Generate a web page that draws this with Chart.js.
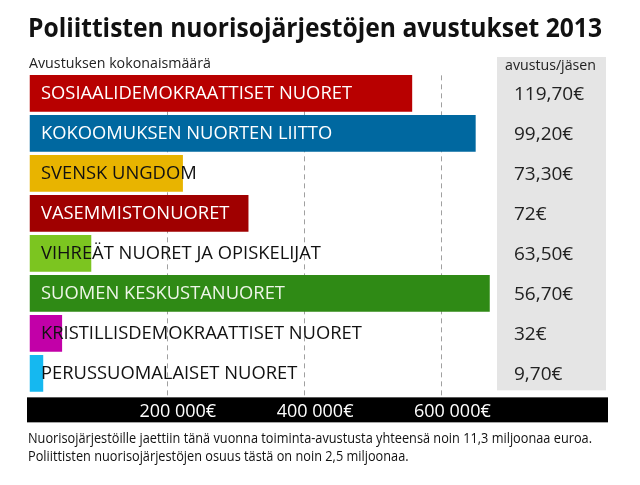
<!DOCTYPE html>
<html>
<head>
<meta charset="utf-8">
<script src="https://cdn.jsdelivr.net/npm/chart.js@4"></script>
<style>
  html, body { margin: 0; padding: 0; background: #fff; }
  #wrap { width: 640px; height: 485px; position: relative; }
</style>
</head>
<body>
<div id="wrap"><canvas id="avustusChart"></canvas></div>
<script>
// Puolueiden nuorisojärjestöt ja avustukset 2013
const jarjestot = [
    'SOSIAALIDEMOKRAATTISET NUORET',
    'KOKOOMUKSEN NUORTEN LIITTO',
    'SVENSK UNGDOM',
    'VASEMMISTONUORET',
    'VIHREÄT NUORET JA OPISKELIJAT',
    'SUOMEN KESKUSTANUORET',
    'KRISTILLISDEMOKRAATTISET NUORET',
    'PERUSSUOMALAISET NUORET'
];
const avustusYhteensa = [557500, 650000, 223500, 319000, 90000, 670500, 47500, 20000];
const avustusPerJasen = [119.70, 99.20, 73.30, 72, 63.50, 56.70, 32, 9.70];
const tickArvot = [200000, 400000, 600000];

const palkkiVarit = ['#b80000', '#0068a0', '#e8b400', '#a00000', '#7cc520', '#2f8a15', '#c200a8', '#15b8f0'];
const tekstiVarit = ['#ffffff', '#ffffff', '#111111', '#ffffff', '#111111', '#eef6e8', '#111111', '#111111'];

const otsikko = 'Poliittisten nuorisojärjestöjen avustukset 2013';
const alaotsikko = 'Avustuksen kokonaismäärä';
const sarakeOtsikko = 'avustus/jäsen';
const alaviite = [
    'Nuorisojärjestöille jaettiin tänä vuonna toiminta-avustusta yhteensä noin 11,3 miljoonaa euroa.',
    'Poliittisten nuorisojärjestöjen osuus tästä on noin 2,5 miljoonaa.'
];

const FONT = '"Open Sans", "DejaVu Sans", sans-serif';

function euro(v) {
    return Number.isInteger(v) ? v + '€' : v.toFixed(2).replace('.', ',') + '€';
}
function tuhannet(v) {
    return String(v).replace(/\B(?=(\d{3})+(?!\d))/g, ' ') + '€';
}

// kirjoittaa tekstin ja puristaa sen annettuun leveyteen
function fitText(ctx, text, x, y, width, sx) {
    const w = ctx.measureText(text).width;
    const k = sx || (width ? Math.max(0.7, Math.min(1.15, width / w)) : 1);
    ctx.save();
    ctx.translate(x, y);
    ctx.scale(k, 1);
    ctx.fillText(text, 0, 0);
    ctx.restore();
    return k;
}

const koristeet = {
    id: 'koristeet',
    beforeDraw(chart) {
        const ctx = chart.ctx;
        const xs = chart.scales.x;
        ctx.save();
        ctx.fillStyle = '#ffffff';
        ctx.fillRect(0, 0, chart.width, chart.height);
        // harmaa sarake
        ctx.fillStyle = '#e5e5e5';
        ctx.fillRect(497, 57, 109, chart.chartArea.bottom - 3 - 57);
        // musta akselipalkki
        ctx.fillStyle = '#000000';
        ctx.fillRect(27, xs.top + 4, 581, xs.bottom - xs.top - 4);
        // otsikot
        ctx.fillStyle = '#111';
        ctx.textBaseline = 'alphabetic';
        ctx.textAlign = 'left';
        ctx.font = 'bold 27px ' + FONT;
        fitText(ctx, otsikko, 28, 37, 574);
        ctx.fillStyle = '#222';
        ctx.font = '15px ' + FONT;
        fitText(ctx, alaotsikko, 29, 68, 182);
        ctx.font = '14px ' + FONT;
        fitText(ctx, sarakeOtsikko, 505, 70, 91);
        // alaviite
        ctx.fillStyle = '#111';
        ctx.font = '14px ' + FONT;
        const k = fitText(ctx, alaviite[0], 28, 443, 564);
        fitText(ctx, alaviite[1], 28, 461, null, k);
        ctx.restore();
    },
    beforeDatasetsDraw(chart) {
        // katkoviivaiset apuviivat palkkien taakse
        const ctx = chart.ctx;
        const xs = chart.scales.x;
        ctx.save();
        ctx.strokeStyle = '#a0a0a0';
        ctx.lineWidth = 1;
        ctx.setLineDash([5, 4]);
        tickArvot.forEach(v => {
            const px = Math.round(xs.getPixelForValue(v)) + 0.5;
            ctx.beginPath();
            ctx.moveTo(px, chart.chartArea.top + 2);
            ctx.lineTo(px, xs.top + 4);
            ctx.stroke();
        });
        ctx.restore();
    },
    afterDatasetsDraw(chart) {
        const ctx = chart.ctx;
        const meta = chart.getDatasetMeta(0);
        ctx.save();
        ctx.textBaseline = 'middle';
        ctx.textAlign = 'left';
        ctx.font = '18px ' + FONT;
        const k = Math.max(0.7, Math.min(1.15, 311 / ctx.measureText(jarjestot[0]).width));
        meta.data.forEach((bar, i) => {
            ctx.fillStyle = tekstiVarit[i];
            fitText(ctx, jarjestot[i], 41, bar.y + 1, null, k);
        });
        ctx.font = '19px ' + FONT;
        ctx.fillStyle = '#222';
        meta.data.forEach((bar, i) => {
            ctx.fillText(euro(avustusPerJasen[i]), 514, bar.y + 1);
        });
        ctx.restore();
    }
};

new Chart(document.getElementById('avustusChart'), {
    type: 'bar',
    data: {
        labels: jarjestot,
        datasets: [{
            data: avustusYhteensa,
            backgroundColor: palkkiVarit,
            borderWidth: 0,
            barPercentage: 0.917,
            categoryPercentage: 1
        }]
    },
    options: {
        indexAxis: 'y',
        responsive: true,
        maintainAspectRatio: false,
        animation: false,
        layout: {
            padding: { top: 73.35, left: 29.5, right: 130, bottom: 62.65 }
        },
        scales: {
            x: {
                min: 0,
                max: 700000,
                afterBuildTicks(scale) {
                    scale.ticks = tickArvot.map(v => ({ value: v }));
                },
                afterFit(scale) {
                    scale.height = 29;
                },
                grid: { display: false },
                border: { display: false },
                ticks: {
                    color: '#ffffff',
                    font: { family: FONT, size: 18 },
                    padding: 0,
                    labelOffset: 11,
                    maxRotation: 0,
                    callback: v => tuhannet(v)
                }
            },
            y: {
                display: false
            }
        },
        plugins: {
            legend: { display: false },
            tooltip: { enabled: false }
        }
    },
    plugins: [koristeet]
});
</script>
</body>
</html>
